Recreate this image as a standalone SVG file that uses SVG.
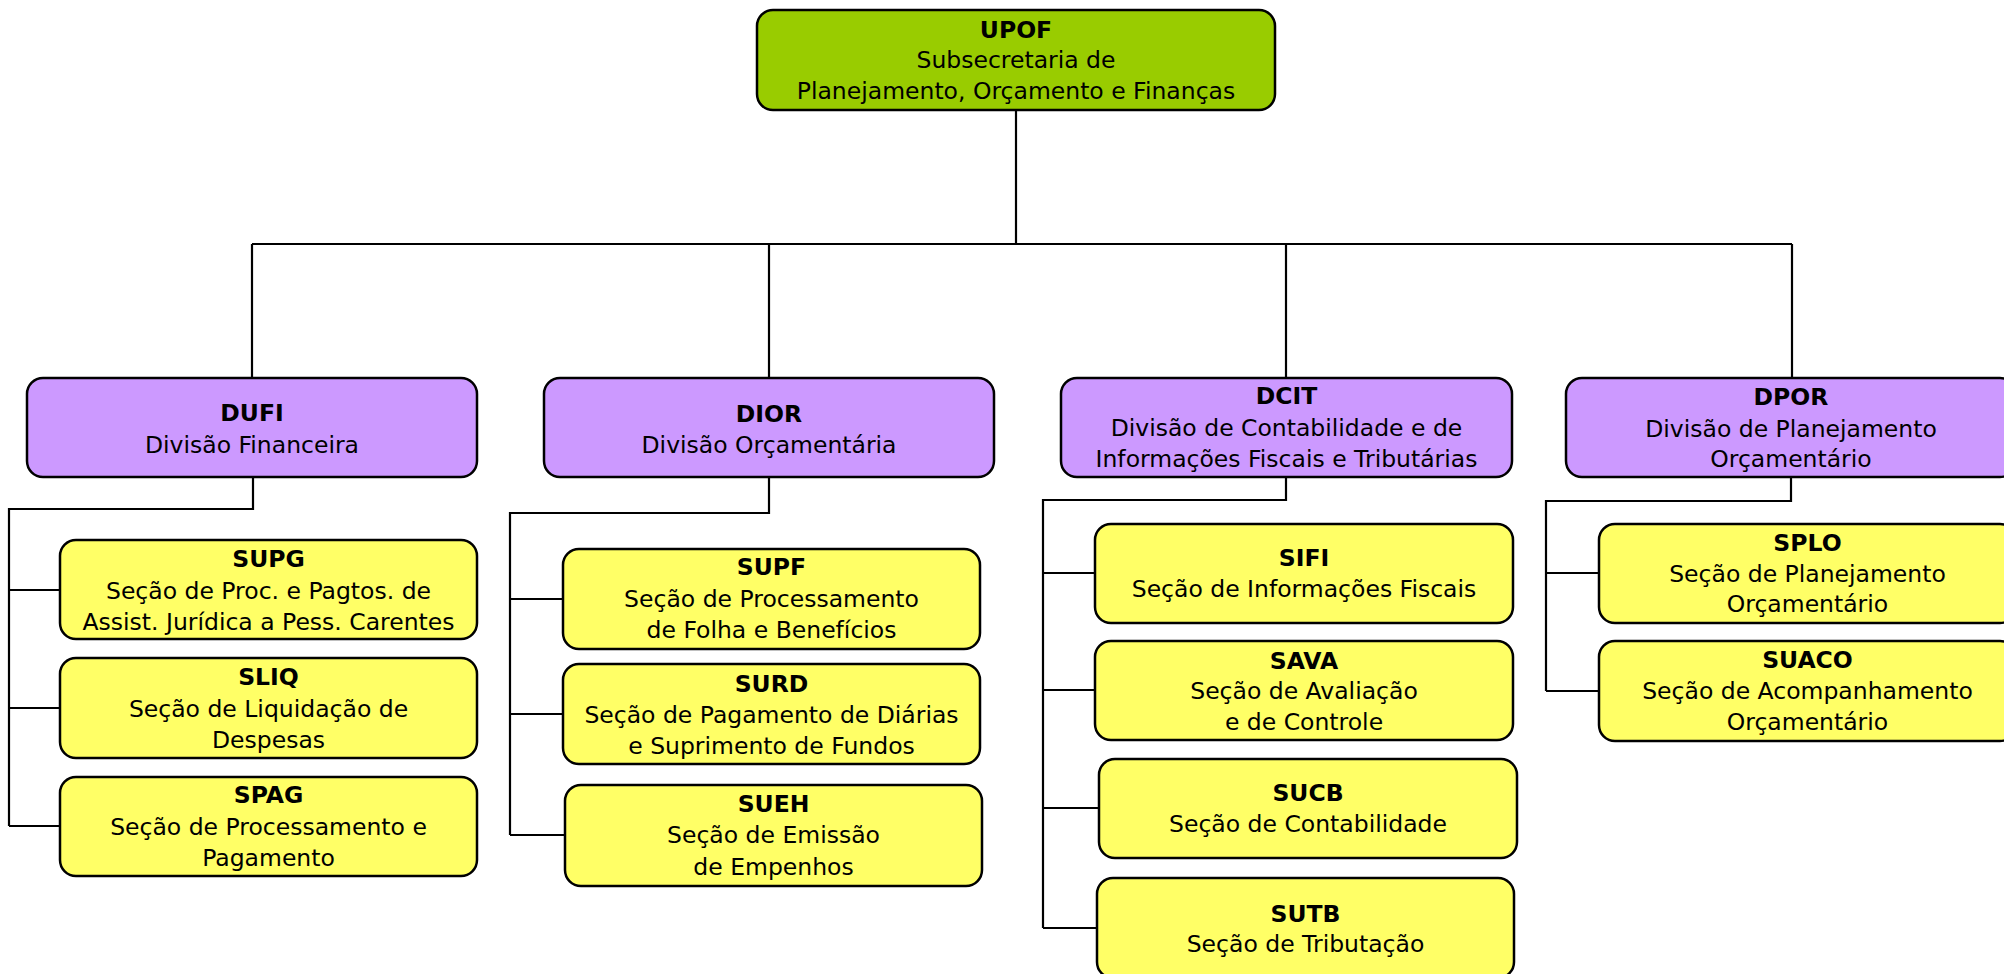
<svg xmlns="http://www.w3.org/2000/svg" width="2004" height="974" viewBox="0 0 2004 974">
<style>
  .box { stroke: #000; stroke-width: 2.5; }
  .top { fill: #99CC00; }
  .div { fill: #CC99FF; }
  .sec { fill: #FFFF66; }
  text { font-family: "DejaVu Sans", Verdana, "Liberation Sans", sans-serif; font-size: 23.5px; fill: #000; text-anchor: middle; }
  .b { font-weight: bold; }
  .conn path { fill: none; stroke: #000; stroke-width: 2.2; }
</style>
<rect width="2004" height="974" fill="#fff"/>

<g class="conn" id="connectors">
  <path d="M1016,110 V244"/>
  <path d="M252,244 H1792"/>
  <path d="M252,244 V378"/>
  <path d="M769,244 V378"/>
  <path d="M1286,244 V378"/>
  <path d="M1792,244 V378"/>
  <path d="M253,477 V509 H9 V826"/>
  <path d="M9,590 H60 M9,708 H60 M9,826 H60"/>
  <path d="M769,478 V513 H510 V835"/>
  <path d="M510,599 H563 M510,714 H563 M510,835 H565"/>
  <path d="M1286,477 V500 H1043 V928"/>
  <path d="M1043,573 H1095 M1043,690 H1095 M1043,808 H1099 M1043,928 H1097"/>
  <path d="M1791,477 V501 H1546 V691"/>
  <path d="M1546,573 H1599 M1546,691 H1599"/>
</g>

<g id="UPOF">
  <rect class="box top" x="757" y="10" width="518" height="100" rx="16"/>
  <text x="1016" y="38" class="b">UPOF</text>
  <text x="1016" y="68">Subsecretaria de</text>
  <text x="1016" y="99">Planejamento, Orçamento e Finanças</text>
</g>

<g id="DUFI">
  <rect class="box div" x="27" y="378" width="450" height="99" rx="16"/>
  <text x="252" y="421" class="b">DUFI</text>
  <text x="252" y="453">Divisão Financeira</text>
</g>
<g id="DIOR">
  <rect class="box div" x="544" y="378" width="450" height="99" rx="16"/>
  <text x="769" y="422" class="b">DIOR</text>
  <text x="769" y="453">Divisão Orçamentária</text>
</g>
<g id="DCIT">
  <rect class="box div" x="1061" y="378" width="451" height="99" rx="16"/>
  <text x="1286.5" y="404" class="b">DCIT</text>
  <text x="1286.5" y="436">Divisão de Contabilidade e de</text>
  <text x="1286.5" y="467">Informações Fiscais e Tributárias</text>
</g>
<g id="DPOR">
  <rect class="box div" x="1566" y="378" width="450" height="99" rx="16"/>
  <text x="1791" y="405" class="b">DPOR</text>
  <text x="1791" y="437">Divisão de Planejamento</text>
  <text x="1791" y="467">Orçamentário</text>
</g>

<g id="SUPG">
  <rect class="box sec" x="60" y="540" width="417" height="99" rx="16"/>
  <text x="268.5" y="567" class="b">SUPG</text>
  <text x="268.5" y="599">Seção de Proc. e Pagtos. de</text>
  <text x="268.5" y="630">Assist. Jurídica a Pess. Carentes</text>
</g>
<g id="SLIQ">
  <rect class="box sec" x="60" y="658" width="417" height="100" rx="16"/>
  <text x="268.5" y="685" class="b">SLIQ</text>
  <text x="268.5" y="717">Seção de Liquidação de</text>
  <text x="268.5" y="748">Despesas</text>
</g>
<g id="SPAG">
  <rect class="box sec" x="60" y="777" width="417" height="99" rx="16"/>
  <text x="268.5" y="803" class="b">SPAG</text>
  <text x="268.5" y="835">Seção de Processamento e</text>
  <text x="268.5" y="866">Pagamento</text>
</g>

<g id="SUPF">
  <rect class="box sec" x="563" y="549" width="417" height="100" rx="16"/>
  <text x="771.5" y="575" class="b">SUPF</text>
  <text x="771.5" y="607">Seção de Processamento</text>
  <text x="771.5" y="638">de Folha e Benefícios</text>
</g>
<g id="SURD">
  <rect class="box sec" x="563" y="664" width="417" height="100" rx="16"/>
  <text x="771.5" y="692" class="b">SURD</text>
  <text x="771.5" y="723">Seção de Pagamento de Diárias</text>
  <text x="771.5" y="754">e Suprimento de Fundos</text>
</g>
<g id="SUEH">
  <rect class="box sec" x="565" y="785" width="417" height="101" rx="16"/>
  <text x="773.5" y="812" class="b">SUEH</text>
  <text x="773.5" y="843">Seção de Emissão</text>
  <text x="773.5" y="875">de Empenhos</text>
</g>

<g id="SIFI">
  <rect class="box sec" x="1095" y="524" width="418" height="99" rx="16"/>
  <text x="1304" y="566" class="b">SIFI</text>
  <text x="1304" y="597">Seção de Informações Fiscais</text>
</g>
<g id="SAVA">
  <rect class="box sec" x="1095" y="641" width="418" height="99" rx="16"/>
  <text x="1304" y="669" class="b">SAVA</text>
  <text x="1304" y="699">Seção de Avaliação</text>
  <text x="1304" y="730">e de Controle</text>
</g>
<g id="SUCB">
  <rect class="box sec" x="1099" y="759" width="418" height="99" rx="16"/>
  <text x="1308" y="801" class="b">SUCB</text>
  <text x="1308" y="832">Seção de Contabilidade</text>
</g>
<g id="SUTB">
  <rect class="box sec" x="1097" y="878" width="417" height="100" rx="16"/>
  <text x="1305.5" y="922" class="b">SUTB</text>
  <text x="1305.5" y="952">Seção de Tributação</text>
</g>

<g id="SPLO">
  <rect class="box sec" x="1599" y="524" width="417" height="99" rx="16"/>
  <text x="1807.5" y="551" class="b">SPLO</text>
  <text x="1807.5" y="582">Seção de Planejamento</text>
  <text x="1807.5" y="612">Orçamentário</text>
</g>
<g id="SUACO">
  <rect class="box sec" x="1599" y="641" width="417" height="100" rx="16"/>
  <text x="1807.5" y="668" class="b">SUACO</text>
  <text x="1807.5" y="699">Seção de Acompanhamento</text>
  <text x="1807.5" y="730">Orçamentário</text>
</g>
</svg>
